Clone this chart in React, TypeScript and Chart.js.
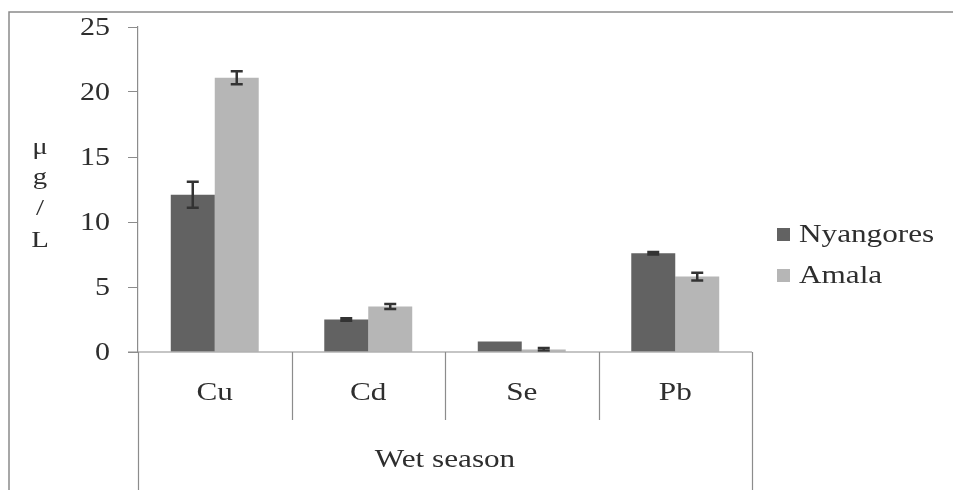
import React, { useEffect, useRef } from "react";
import { Chart, registerables } from "chart.js";

Chart.register(...registerables);

const categories = ["Cu", "Cd", "Se", "Pb"];
const groupLabel = "Wet season";
const seriesNames = ["Nyangores", "Amala"];
const nyangores = [12.1, 2.5, 0.8, 7.6];
const amala = [21.1, 3.5, 0.2, 5.8];
const nyangoresErr = [1.0, 0.1, 0.0, 0.1];
const amalaErr = [0.5, 0.2, 0.1, 0.3];
const yTicks = [0, 5, 10, 15, 20, 25];
const yTitle = ["μ", "g", "/", "L"];

const colors = ["#626262", "#b6b6b6"];
const FONT = "'Liberation Serif', 'DejaVu Serif', serif";
const TEXT = "#2e2e2e";
const STRETCH = 1.2;

function drawText(ctx: CanvasRenderingContext2D, t: string, x: number, y: number, align: CanvasTextAlign, size: number) {
  ctx.save();
  ctx.translate(x, y);
  ctx.scale(STRETCH, 1);
  ctx.font = `${size}px ${FONT}`;
  ctx.fillStyle = TEXT;
  ctx.textAlign = align;
  ctx.textBaseline = "middle";
  ctx.fillText(t, 0, 0);
  ctx.restore();
}

const customPlugin = {
  id: "custom",
  afterDatasetsDraw(chart: any) {
    const ctx = chart.ctx;
    const y = chart.scales.y;
    const errs = [nyangoresErr, amalaErr];
    ctx.save();
    ctx.strokeStyle = "#333";
    ctx.lineWidth = 2.5;
    chart.data.datasets.forEach((ds: any, di: number) => {
      const meta = chart.getDatasetMeta(di);
      meta.data.forEach((bar: any, i: number) => {
        const e = errs[di][i];
        if (!e) return;
        const v = ds.data[i];
        const top = y.getPixelForValue(v + e);
        const bot = y.getPixelForValue(v - e);
        ctx.beginPath();
        ctx.moveTo(bar.x, top);
        ctx.lineTo(bar.x, bot);
        ctx.moveTo(bar.x - 6, top);
        ctx.lineTo(bar.x + 6, top);
        ctx.moveTo(bar.x - 6, bot);
        ctx.lineTo(bar.x + 6, bot);
        ctx.stroke();
      });
    });
    ctx.restore();
  },
  afterDraw(chart: any) {
    const ctx = chart.ctx;
    const area = chart.chartArea;
    const x = chart.scales.x;
    const y = chart.scales.y;
    const H = chart.height;
    ctx.save();
    // frame
    ctx.strokeStyle = "#8a8a8a";
    ctx.lineWidth = 1.5;
    ctx.beginPath();
    ctx.moveTo(9, H);
    ctx.lineTo(9, 12);
    ctx.lineTo(chart.width, 12);
    ctx.stroke();

    // x axis line and multi-level category separators
    ctx.strokeStyle = "#8c8c8c";
    ctx.lineWidth = 1.2;
    ctx.beginPath();
    ctx.moveTo(area.left - 10, area.bottom);
    ctx.lineTo(area.right, area.bottom);
    const step = (area.right - area.left) / categories.length;
    for (let i = 0; i <= categories.length; i++) {
      const px = Math.round(area.left + step * i) + 0.5;
      ctx.moveTo(px, area.bottom);
      ctx.lineTo(px, i === 0 || i === categories.length ? H : area.bottom + 68);
    }
    ctx.stroke();
    ctx.restore();

    // y tick labels
    yTicks.forEach((v) => {
      drawText(ctx, String(v), 110, y.getPixelForValue(v) + 1, "right", 25);
    });

    // category labels
    categories.forEach((c, i) => {
      drawText(ctx, c, x.getPixelForValue(i), area.bottom + 41, "center", 26);
    });
    drawText(ctx, groupLabel, (area.left + area.right) / 2, area.bottom + 108, "center", 26);

    // y title stacked
    const titleY = [148, 178, 209, 241];
    yTitle.forEach((t, i) => {
      drawText(ctx, t, 40, titleY[i], "center", 24);
    });

    // legend
    seriesNames.forEach((n, i) => {
      const ly = 234 + i * 41;
      ctx.fillStyle = colors[i];
      ctx.fillRect(777, ly - 6, 13, 13);
      drawText(ctx, n, 799, ly + 1, "left", 26);
    });
  },
};

export default function App() {
  const ref = useRef<HTMLCanvasElement | null>(null);
  useEffect(() => {
    if (!ref.current) return;
    const chart = new Chart(ref.current, {
      type: "bar",
      data: {
        labels: categories,
        datasets: [
          { label: seriesNames[0], data: nyangores, backgroundColor: colors[0] },
          { label: seriesNames[1], data: amala, backgroundColor: colors[1] },
        ],
      },
      options: {
        animation: false,
        responsive: true,
        maintainAspectRatio: false,
        layout: { padding: { left: 0, top: 27, right: 201, bottom: 138 } },
        datasets: {
          bar: { categoryPercentage: 0.573, barPercentage: 1 },
        },
        plugins: {
          legend: { display: false },
          tooltip: { enabled: false },
        },
        scales: {
          x: { display: false },
          y: {
            min: 0,
            max: 25,
            afterFit(scale: any) {
              scale.width = 138;
            },
            afterBuildTicks(scale: any) {
              scale.ticks = yTicks.map((v) => ({ value: v }));
            },
            border: { display: true, color: "#8c8c8c", width: 1.2 },
            grid: {
              display: true,
              drawOnChartArea: false,
              drawTicks: true,
              tickLength: 10,
              color: "#8c8c8c",
            },
            ticks: {
              display: false,
              padding: 17,
              color: TEXT,
              font: { family: FONT, size: 22 },
            },
          },
        },
      },
      plugins: [customPlugin],
    });
    return () => chart.destroy();
  }, []);
  return (
    <div style={{ position: "fixed", left: 0, top: 0, width: 953, height: 490, background: "#fff" }}>
      <canvas ref={ref} />
    </div>
  );
}
